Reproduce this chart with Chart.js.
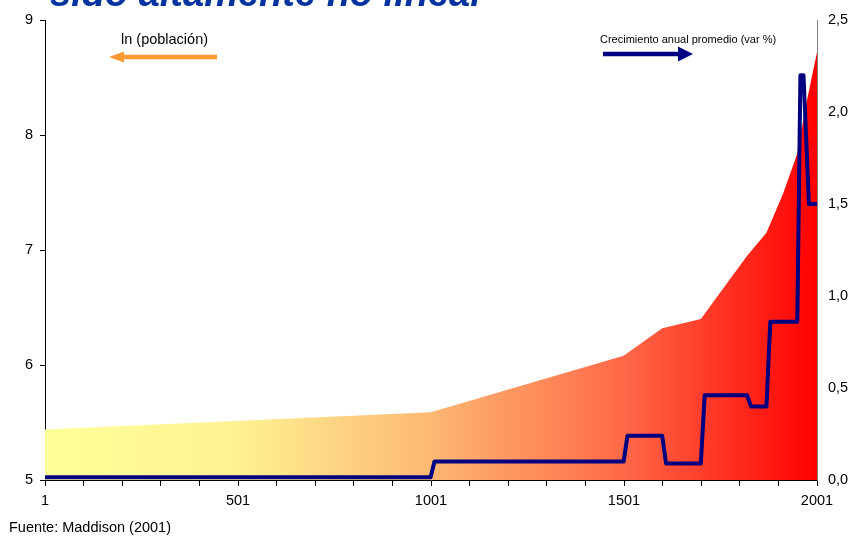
<!DOCTYPE html>
<html lang="es">
<head>
<meta charset="UTF-8">
<title>Población mundial y crecimiento</title>
<style>
    body { margin: 0; padding: 0; background: #fff; }
    #wrap { width: 856px; height: 538px; position: relative; }
</style>
<script src="https://cdn.jsdelivr.net/npm/chart.js"></script>
</head>
<body>
<div id="wrap"><canvas id="popChart" width="856" height="538"></canvas></div>
<script>
    // ln de la población mundial (millones), Maddison
    const popYears = [1, 1000, 1500, 1600, 1700, 1820, 1870, 1913, 1950, 1973, 2001];
    const popLn = [5.44, 5.59, 6.08, 6.32, 6.40, 6.95, 7.15, 7.49, 7.84, 8.27, 8.72];

    // crecimiento anual promedio (var %), por periodo
    const growthYears = [1, 1000, 1010, 1500, 1510, 1600, 1610, 1700, 1710, 1820, 1830, 1870, 1880, 1950, 1958, 1966, 1980, 2001];
    const growthRate = [0.015, 0.015, 0.10, 0.10, 0.24, 0.24, 0.09, 0.09, 0.46, 0.46, 0.40, 0.40, 0.86, 0.86, 2.20, 2.20, 1.50, 1.50];

    // ticks del eje x (cada 100 años, etiqueta cada 500)
    const xTicks = [1, 101, 201, 301, 401, 501, 601, 701, 801, 901, 1001, 1101, 1201, 1301, 1401, 1501, 1601, 1701, 1801, 1901, 2001];
    const xLabels = [1, 501, 1001, 1501, 2001];

    const FONT = '"Liberation Sans", Arial, sans-serif';

    function comma(v) {
        return v.toFixed(1).replace('.', ',');
    }

    function areaGradient(context) {
        const chart = context.chart;
        const a = chart.chartArea;
        if (!a) return '#ffcc80';
        const g = chart.ctx.createLinearGradient(a.left, 0, a.right, 0);
        g.addColorStop(0, '#FFFF99');
        g.addColorStop(0.25, '#FFF193');
        g.addColorStop(0.5, '#FDB872');
        g.addColorStop(0.75, '#FF6848');
        g.addColorStop(1, '#FF0000');
        return g;
    }

    function drawArrow(ctx, tail, tip, y, thick, headLen, headH, color) {
        const dir = tip > tail ? 1 : -1;
        ctx.save();
        ctx.fillStyle = color;
        ctx.fillRect(Math.min(tail, tip - dir * headLen), y - thick / 2, Math.abs(tip - tail) - headLen, thick);
        ctx.beginPath();
        ctx.moveTo(tip, y);
        ctx.lineTo(tip - dir * headLen, y - headH / 2);
        ctx.lineTo(tip - dir * headLen, y + headH / 2);
        ctx.closePath();
        ctx.fill();
        ctx.restore();
    }

    // textos y flechas alrededor del gráfico
    const notes = {
        id: 'notes',
        afterDraw(chart) {
            const ctx = chart.ctx;
            ctx.save();
            ctx.textAlign = 'left';
            ctx.textBaseline = 'alphabetic';

            ctx.fillStyle = '#0033A0';
            ctx.font = 'italic bold 38px ' + FONT;
            ctx.fillText('sido altamente no lineal', 50, 6);

            ctx.fillStyle = '#000';
            ctx.font = '14.5px ' + FONT;
            ctx.fillText('ln (población)', 121, 44);
            ctx.fillText('Fuente: Maddison (2001)', 9, 532);

            ctx.font = '11px ' + FONT;
            ctx.fillText('Crecimiento anual promedio (var %)', 600, 43);
            ctx.restore();

            drawArrow(ctx, 217, 109, 57, 4.5, 15, 11, '#FF9933');
            drawArrow(ctx, 603, 693, 54, 4.5, 15, 15, '#000080');
        }
    };

    const ctx = document.getElementById('popChart').getContext('2d');
    const popChart = new Chart(ctx, {
        type: 'line',
        data: {
            datasets: [{
                label: 'Crecimiento anual promedio (var %)',
                data: growthYears.map((y, i) => ({ x: y, y: growthRate[i] })),
                yAxisID: 'y1',
                borderColor: '#000080',
                borderWidth: 4,
                borderJoinStyle: 'round',
                borderCapStyle: 'round',
                pointRadius: 0,
                tension: 0,
                fill: false,
                order: 0
            }, {
                label: 'ln (población)',
                data: popYears.map((y, i) => ({ x: y, y: popLn[i] })),
                yAxisID: 'y',
                borderWidth: 0,
                borderColor: 'rgba(0,0,0,0)',
                backgroundColor: areaGradient,
                pointRadius: 0,
                tension: 0,
                fill: 'origin',
                order: 1
            }]
        },
        options: {
            responsive: false,
            animation: false,
            layout: { padding: { top: 20, left: 0, right: 0, bottom: 0 } },
            plugins: {
                legend: { display: false },
                tooltip: { enabled: false }
            },
            scales: {
                x: {
                    type: 'linear',
                    min: 1,
                    max: 2001,
                    afterBuildTicks(scale) {
                        scale.ticks = xTicks.map(v => ({ value: v }));
                    },
                    afterFit(scale) { scale.height = 58; },
                    ticks: {
                        autoSkip: false,
                        maxRotation: 0,
                        padding: 6,
                        color: '#000',
                        font: { family: FONT, size: 14.5 },
                        callback: v => xLabels.includes(v) ? String(v) : ''
                    },
                    grid: { drawOnChartArea: false, drawTicks: true, tickLength: 6, color: '#000' },
                    border: { display: true, color: '#000', width: 1 }
                },
                y: {
                    position: 'left',
                    min: 5,
                    max: 9,
                    afterFit(scale) { scale.width = 45; },
                    ticks: {
                        stepSize: 1,
                        padding: 7,
                        color: '#000',
                        font: { family: FONT, size: 14.5 }
                    },
                    grid: { drawOnChartArea: false, drawTicks: true, tickLength: 5, color: '#000' },
                    border: { display: true, color: '#000', width: 1 }
                },
                y1: {
                    position: 'right',
                    min: 0,
                    max: 2.5,
                    afterFit(scale) { scale.width = 39; },
                    ticks: {
                        stepSize: 0.5,
                        padding: 11,
                        color: '#000',
                        font: { family: FONT, size: 14.5 },
                        callback: v => comma(v)
                    },
                    grid: { drawOnChartArea: false, drawTicks: false },
                    border: { display: true, color: '#808080', width: 1 }
                }
            }
        },
        plugins: [notes]
    });
</script>
</body>
</html>
